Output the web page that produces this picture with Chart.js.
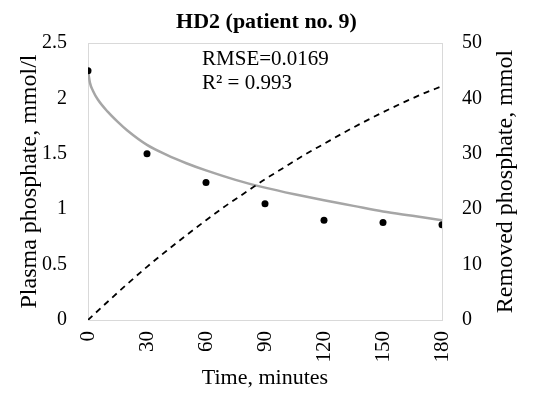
<!DOCTYPE html>
<html>
<head>
<meta charset="utf-8">
<script src="https://cdn.jsdelivr.net/npm/chart.js@4"></script>
<style>
html,body{margin:0;padding:0;background:#fff;}
#wrap{width:533px;height:395px;position:relative;}
</style>
</head>
<body>
<div id="wrap"><canvas id="c" width="533" height="395"></canvas></div>
<script>
// Measured plasma phosphate (dots)
const timeMeasured = [0, 30, 60, 90, 120, 150, 180];
const phosphateMeasured = [2.25, 1.50, 1.24, 1.05, 0.90, 0.88, 0.86];
// Model fit (grey line)
const fitTime = [0, 1, 2.5, 5, 10, 15, 20, 30, 40, 50, 60, 75, 90, 105, 120, 135, 150, 165, 180];
const fitPhosphate = [2.25, 2.14, 2.07, 1.99, 1.88, 1.79, 1.71, 1.58, 1.49, 1.415, 1.35, 1.265, 1.195, 1.135, 1.08, 1.03, 0.98, 0.94, 0.90];
// Removed phosphate (dashed line, right axis)
const removedTime = [0, 10, 20, 30, 40, 50, 60, 70, 80, 90, 100, 110, 120, 130, 140, 150, 160, 170, 180];
const removedPhosphate = [0, 3.3, 6.5, 9.6, 12.5, 15.3, 18.0, 20.6, 23.0, 25.4, 27.6, 29.8, 31.8, 33.8, 35.7, 37.5, 39.2, 40.8, 42.2];
// Axis ticks / labels
const xTicks = [0, 30, 60, 90, 120, 150, 180];
const leftTicks = [0, 0.5, 1, 1.5, 2, 2.5];
const rightTicks = [0, 10, 20, 30, 40, 50];
const titleText = 'HD2 (patient no. 9)';
const xTitle = 'Time, minutes';
const leftTitle = 'Plasma phosphate, mmol/l';
const rightTitle = 'Removed phosphate, mmol';
const annotationLines = ['RMSE=0.0169', 'R\u00B2 = 0.993'];

const serif = '"Liberation Serif", "Times New Roman", serif';
const toXY = (xs, ys) => xs.map((x, i) => ({x: x, y: ys[i]}));

const borderPlugin = {
  id: 'plotBorder',
  beforeDatasetsDraw(chart) {
    const a = chart.chartArea, ctx = chart.ctx;
    ctx.save();
    ctx.strokeStyle = '#d9d9d9';
    ctx.lineWidth = 1;
    ctx.strokeRect(Math.round(a.left) + 0.5, Math.round(a.top) + 0.5, Math.round(a.right - a.left), Math.round(a.bottom - a.top));
    ctx.restore();
  }
};
const textPlugin = {
  id: 'texts',
  afterDraw(chart) {
    const ctx = chart.ctx;
    const xs = chart.scales.x, ys = chart.scales.y, a = chart.chartArea;
    ctx.save();
    ctx.fillStyle = '#000';
    ctx.font = '21px ' + serif;
    ctx.textAlign = 'left';
    ctx.textBaseline = 'middle';
    const x0 = xs.getPixelForValue(58);
    ctx.fillText(annotationLines[0], x0, ys.getPixelForValue(2.35));
    ctx.fillText(annotationLines[1], x0, ys.getPixelForValue(2.134));
    // right axis title, reading bottom-to-top
    ctx.translate(506, (a.top + a.bottom) / 2);
    ctx.rotate(-Math.PI / 2);
    ctx.font = '24px ' + serif;
    ctx.textAlign = 'center';
    ctx.fillText(rightTitle, 0, 0);
    ctx.restore();
  }
};

new Chart(document.getElementById('c'), {
  type: 'scatter',
  data: {
    datasets: [
      {
        label: 'fit',
        data: toXY(fitTime, fitPhosphate),
        showLine: true,
        borderColor: '#a6a6a6',
        borderWidth: 2.5,
        pointRadius: 0,
        cubicInterpolationMode: 'monotone',
        yAxisID: 'y',
        order: 3
      },
      {
        label: 'removed',
        data: toXY(removedTime, removedPhosphate),
        showLine: true,
        borderColor: '#000',
        borderWidth: 1.8,
        borderDash: [6, 5],
        pointRadius: 0,
        cubicInterpolationMode: 'monotone',
        yAxisID: 'y1',
        order: 2
      },
      {
        label: 'measured',
        data: toXY(timeMeasured, phosphateMeasured),
        showLine: false,
        backgroundColor: '#000',
        borderColor: '#000',
        pointRadius: 3.5,
        pointBorderWidth: 0,
        yAxisID: 'y',
        order: 1
      }
    ]
  },
  options: {
    responsive: false,
    animation: false,
    events: [],
    layout: {padding: 0},
    plugins: {
      legend: {display: false},
      tooltip: {enabled: false},
      title: {
        display: true,
        text: titleText,
        color: '#000',
        font: {family: serif, size: 22, weight: 'bold', lineHeight: 1},
        padding: {top: 11, bottom: 10}
      }
    },
    scales: {
      x: {
        type: 'linear',
        min: 0, max: 180,
        afterBuildTicks: s => { s.ticks = xTicks.map(v => ({value: v})); },
        afterFit: s => { s.height = 75; },
        grid: {display: false, drawTicks: false},
        border: {display: false},
        ticks: {
          color: '#000', font: {family: serif, size: 21},
          minRotation: 90, maxRotation: 90, padding: 11, autoSkip: false,
          callback: v => String(v)
        },
        title: {display: true, text: xTitle, color: '#000',
          font: {family: serif, size: 22, lineHeight: 1}, padding: {top: 0, bottom: 6}}
      },
      y: {
        type: 'linear', position: 'left',
        min: 0, max: 2.5,
        afterBuildTicks: s => { s.ticks = leftTicks.map(v => ({value: v})); },
        afterFit: s => { s.width = 88; },
        grid: {display: false, drawTicks: false},
        border: {display: false},
        ticks: {color: '#000', font: {family: serif, size: 20}, padding: 21, callback: v => String(v)},
        title: {display: true, text: leftTitle, color: '#000',
          font: {family: serif, size: 24, lineHeight: 1}, padding: {top: 18, bottom: 0}}
      },
      y1: {
        type: 'linear', position: 'right',
        min: 0, max: 50,
        afterBuildTicks: s => { s.ticks = rightTicks.map(v => ({value: v})); },
        afterFit: s => { s.width = 91; },
        grid: {display: false, drawTicks: false},
        border: {display: false},
        ticks: {color: '#000', font: {family: serif, size: 20}, padding: 20, callback: v => String(v)},
        title: {display: false}
      }
    }
  },
  plugins: [borderPlugin, textPlugin]
});
</script>
</body>
</html>
